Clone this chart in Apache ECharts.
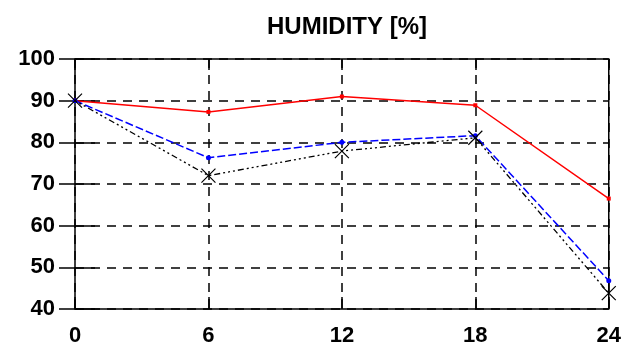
<!DOCTYPE html>
<html>
<head>
<meta charset="utf-8">
<script src="https://cdn.jsdelivr.net/npm/echarts@6/dist/echarts.min.js"></script>
<style>
  html, body { margin: 0; padding: 0; background: #fff; }
  #chart { width: 624px; height: 347px; }
</style>
</head>
<body>
<div id="chart"></div>
<script>
// Relative humidity over the day (hours 0–24)
const hours = [0, 6, 12, 18, 24];
const humidityRed = [90, 87.3, 91, 88.9, 66.5];
const humidityBlue = [90, 76.3, 80, 81.6, 46.8];
const humidityBlack = [90, 72, 77.9, 81.1, 43.8];
const yTicks = [40, 50, 60, 70, 80, 90, 100];
const titleText = 'HUMIDITY [%]';

const pairs = vals => hours.map((h, i) => [h, vals[i]]);
const FONT = '"Liberation Sans", Arial, sans-serif';
const crossPath = 'path://M0,0L10,10M10,0L0,10';

const chart = echarts.init(document.getElementById('chart'), null, { renderer: 'canvas' });

const labelStyle = { color: '#000', fontFamily: FONT, fontWeight: 'bold', fontSize: 22 };
const gridLine = { show: true, lineStyle: { color: '#000', width: 1.5, type: [9, 7] } };

chart.setOption({
  animation: false,
  backgroundColor: '#fff',
  title: {
    text: titleText,
    left: 342,
    top: 10,
    textAlign: 'center',
    textStyle: { color: '#000', fontFamily: FONT, fontWeight: 'bold', fontSize: 24 }
  },
  grid: {
    left: 75, right: 13, top: 59, bottom: 35,
    show: true, borderColor: '#000', borderWidth: 1.5, backgroundColor: 'transparent'
  },
  xAxis: [{
    type: 'value', min: 0, max: 24, interval: 6,
    axisLine: { show: false },
    axisTick: { show: true, inside: true, length: 12, lineStyle: { color: '#000', width: 1.5 } },
    axisLabel: Object.assign({ margin: 16 }, labelStyle),
    splitLine: gridLine
  }, {
    type: 'value', min: 0, max: 24, interval: 6, position: 'top',
    axisLine: { show: false },
    axisTick: { show: true, inside: true, length: 11, lineStyle: { color: '#000', width: 1.5 } },
    axisLabel: { show: false },
    splitLine: { show: false }
  }],
  yAxis: [{
    type: 'value', min: yTicks[0], max: yTicks[yTicks.length - 1], interval: 10,
    axisLine: { show: false },
    axisTick: { show: true, inside: true, length: 20, lineStyle: { color: '#000', width: 1.5 } },
    axisLabel: Object.assign({ margin: 20 }, labelStyle),
    splitLine: gridLine
  }, {
    type: 'value', min: yTicks[0], max: yTicks[yTicks.length - 1], interval: 10, position: 'right',
    axisLine: { show: false },
    axisTick: { show: true, inside: true, length: 16, lineStyle: { color: '#000', width: 1.5 } },
    axisLabel: { show: false },
    splitLine: { show: false }
  }],
  series: [{
    type: 'line',
    data: pairs(humidityRed),
    symbol: 'rect', symbolSize: 4,
    itemStyle: { color: '#ff0000' },
    lineStyle: { color: '#ff0000', width: 1.5 },
    z: 3
  }, {
    type: 'line',
    data: pairs(humidityBlue),
    symbol: 'circle', symbolSize: 5,
    itemStyle: { color: '#0000ff' },
    lineStyle: { color: '#0000ff', width: 1.5, type: [8, 3] },
    z: 4
  }, {
    type: 'line',
    data: pairs(humidityBlack),
    symbol: crossPath, symbolSize: 14, symbolKeepAspect: true,
    itemStyle: { color: 'transparent', borderColor: '#000', borderWidth: 1.2 },
    lineStyle: { color: '#000', width: 1.3, type: [2, 3, 2, 3, 2, 3, 6, 3] },
    z: 5
  }]
});
</script>
</body>
</html>
